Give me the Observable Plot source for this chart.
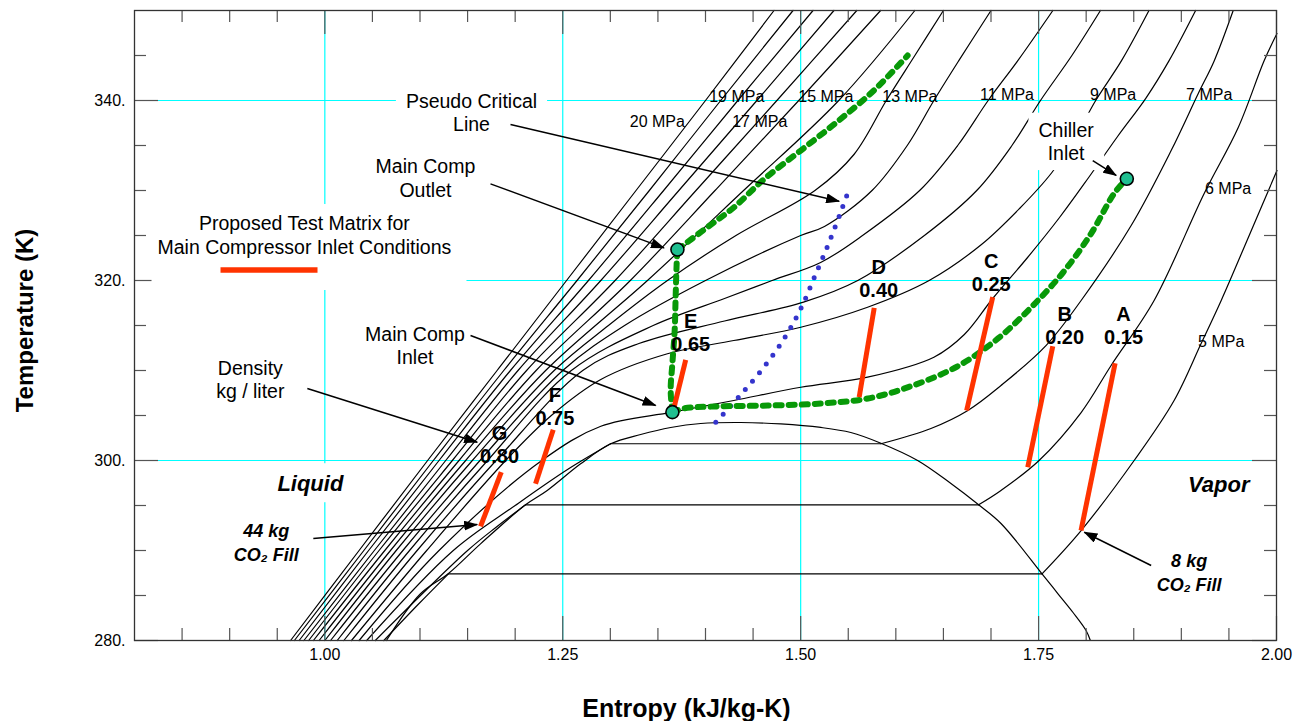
<!DOCTYPE html>
<html><head><meta charset="utf-8">
<script src="https://cdn.jsdelivr.net/npm/d3@7"></script>
<script src="https://cdn.jsdelivr.net/npm/@observablehq/plot@0.6"></script>
<style>
body{margin:0;background:#fff;}
#chart svg{font-family:"Liberation Sans",Arial,sans-serif;overflow:visible}
</style></head><body><div id="chart"></div>
<script>
// ---------- DATA (entropy kJ/kg-K, temperature K) ----------
const p20=[[0.964,280],[1.036,290],[1.108,300],[1.181,310],[1.254,320],[1.327,330],[1.400,340],[1.472,350]];
const p19=[[0.968,280],[1.041,290],[1.114,300],[1.188,310],[1.265,320],[1.341,330],[1.416,340],[1.492,350]];
const p18=[[0.973,280],[1.046,290],[1.120,300],[1.195,310],[1.277,320],[1.356,330],[1.434,340],[1.513,350]];
const p17=[[0.978,280],[1.052,290],[1.127,300],[1.203,310],[1.290,320],[1.372,330],[1.454,340],[1.535,350]];
const p16=[[0.983,280],[1.057,290],[1.134,300],[1.212,310],[1.305,320],[1.390,330],[1.475,340],[1.559,350]];
const p15=[[0.988,280],[1.063,290],[1.141,300],[1.222,310],[1.321,320],[1.410,330],[1.498,340],[1.584,350]];
const p14=[[0.994,280],[1.069,290],[1.148,300],[1.232,310],[1.339,320],[1.440,330],[1.540,340],[1.620,350]];
const p13=[[1.000,280],[1.075,290],[1.155,300],[1.241,310],[1.298,315],[1.360,320],[1.432,325],[1.515,330],[1.556,334],[1.590,340],[1.620,345],[1.650,350]];
const p12=[[1.006,280],[1.082,290],[1.163,300],[1.250,310],[1.315,315],[1.400,320],[1.500,325],[1.525,326],[1.575,330],[1.612,335],[1.640,340],[1.666,344.4],[1.700,350]];
const p11=[[1.013,280],[1.089,290],[1.171,300],[1.259,310],[1.345,315],[1.420,318],[1.470,320],[1.521,322],[1.565,325],[1.625,330],[1.665,335],[1.697,340],[1.728,344.4],[1.765,350]];
const p10=[[1.020,280],[1.097,290],[1.180,300],[1.271,310],[1.330,313],[1.420,315.5],[1.503,317.6],[1.560,320],[1.630,325],[1.685,330],[1.722,335],[1.752,340],[1.785,345],[1.815,350]];
const p9=[[1.028,280],[1.107,290],[1.190,300],[1.238,305],[1.290,309],[1.360,311.86],[1.4297,313.33],[1.5001,314.81],[1.5703,317.03],[1.635,320],[1.690,324],[1.730,328],[1.764,332],[1.789,336],[1.810,340],[1.837,344.4],[1.866,350]];
const p8=[[1.036,280],[1.120,290],[1.228,300],[1.290,303.8],[1.3652,305.37],[1.4297,306.67],[1.5001,308.14],[1.5703,309.26],[1.640,311.48],[1.672,314.0],[1.7018,318.0],[1.738,322.5],[1.772,327.0],[1.803,331.5],[1.833,336.0],[1.863,340.3],[1.887,344.4],[1.915,350]];
const p7=[[1.044,280],[1.135,290],[1.200,295],[1.255,299],[1.3003,301.86],[1.5843,301.86],[1.6369,303.56],[1.6757,305.56],[1.7105,308.33],[1.758,312.8],[1.7947,317.78],[1.8473,326.11],[1.8893,334.44],[1.9178,340.78],[1.9345,344.4],[1.9545,350]];
const p6=[[1.053,280],[1.150,290],[1.181,292.67],[1.2109,295.08],[1.6870,295.08],[1.7105,296.67],[1.7505,300],[1.7947,305.33],[1.8262,310.56],[1.8714,317.78],[1.9240,329.67],[1.9598,337.0],[1.9871,344.44],[2.0005,347.44]];
const p5=[[1.062,280],[1.098,284],[1.1299,287.41],[1.7536,287.41],[1.7947,292.22],[1.8504,300],[1.8924,306.67],[1.9208,313.0],[1.9419,317.78],[1.9713,325.0],[2.0005,332.22]];
const pressures=[20,19,18,17,16,15,14,13,12,11,10,9,8,7,6,5];
const isobarPts=[p20,p19,p18,p17,p16,p15,p14,p13,p12,p11,p10,p9,p8,p7,p6,p5];
// saturation dome
const dome=[[1.0647,280],[1.1005,285.19],[1.1299,287.44],[1.1636,290.74],[1.2109,295.08],[1.2337,296.67],[1.2688,299.63],[1.3003,301.86],[1.3319,302.89],[1.3634,303.67],[1.3950,304.11],[1.4370,304.22],[1.4791,304.06],[1.5212,303.67],[1.5527,303.11],[1.5843,301.92],[1.6229,300],[1.6579,297.44],[1.6870,295.08],[1.7105,293.0],[1.7536,287.41],[1.7704,285.19],[1.7862,283.11],[1.7999,281.11],[1.8044,280]];
// cycle path (green dotted)
const compression=[[1.3652,305.37],[1.3634,307.78],[1.3652,310.78],[1.3676,314.44],[1.3686,318.11],[1.3697,321.89],[1.3705,323.44]];
const heating=[[1.3705,323.44],[1.4020,325.92],[1.4297,328.11],[1.4612,331.22],[1.5001,334.44],[1.5388,337.67],[1.5769,341.11],[1.6124,345.0]];
const cooling=[[1.3652,305.37],[1.3771,305.78],[1.4087,306.0],[1.4654,306.11],[1.5212,306.33],[1.5707,306.89],[1.6180,308.33],[1.6664,310.56],[1.7074,313.56],[1.7421,317.0],[1.7757,320.89],[1.8052,325.22],[1.8294,329.67],[1.8427,331.30]];
// pseudo critical line (blue dotted)
const pseudoCritical=[[1.4108,304.26],[1.4363,307.22],[1.4605,310.26],[1.4820,313.44],[1.5001,316.86],[1.5152,320.56],[1.5293,324.08],[1.5430,327.86],[1.5517,330.37]];
// test matrix: constant density segments
const caseNames=["A","B","C","D","E","F","G"];
const caseDensity=["0.15","0.20","0.25","0.40","0.65","0.75","0.80"];
const caseS1=[1.7946,1.7386,1.6744,1.5615,1.3662,1.2214,1.1636];
const caseT1=[292.22,299.26,305.56,307.04,305.56,297.41,292.67];
const caseS2=[1.8304,1.7649,1.7018,1.5773,1.3792,1.2400,1.1854];
const caseT2=[310.81,312.70,318.15,316.96,311.19,303.41,298.70];
const caseLabelS=[1.8393,1.7774,1.7003,1.5820,1.3845,1.2417,1.1836];
const caseLabelT=[315.01,315.01,320.89,320.23,314.23,306.03,301.77];
// state points
const stateNames=["Main Comp Outlet","Main Comp Inlet","Chiller Inlet"];
const stateS=[1.3705,1.3652,1.8427];
const stateT=[323.44,305.37,331.30];
// pressure labels
const pLabelText=["20 MPa","19 MPa","17 MPa","15 MPa","13 MPa","11 MPa","9 MPa","7 MPa","6 MPa","5 MPa"];
const pLabelS=[1.3494,1.4328,1.4570,1.5264,1.6148,1.7168,1.8283,1.9293,1.9492,1.9419];
const pLabelT=[337.6,340.38,337.6,340.38,340.38,340.57,340.57,340.57,330.2,313.16];
// annotations
const noteText=["Pseudo Critical\nLine","Main Comp\nOutlet","Main Comp\nInlet","Density\nkg / liter","Chiller\nInlet"];
const noteS=[1.1541,1.1057,1.0947,0.9217,1.7789];
const noteT=[338.71,331.43,312.82,309.07,335.51];
const arrowS1=[1.1951,1.1741,1.1531,0.9816,0.9879,1.8683,1.8069];
const arrowT1=[337.33,330.74,313.89,308.0,291.33,288.33,333.33];
const arrowS2=[1.5404,1.3564,1.3476,1.1601,1.1601,1.7981,1.8315];
const arrowT2=[328.81,323.63,306.11,302.03,292.89,292.03,331.67];
const regionText=["Liquid","Vapor"];
const regionS=[0.9848,1.9393];
const regionT=[297.37,297.26];
const fillText=["44 kg\nCO₂ Fill","8 kg\nCO₂ Fill"];
const fillS=[0.9385,1.9082];
const fillT=[291.0,287.68];
const legendText=["Proposed Test Matrix for\nMain Compressor Inlet Conditions"];
const legendS=[0.9785];
const legendT=[325.13];
// axes
const xMajor=[1.00,1.25,1.50,1.75,2.00];
const xMinor=d3.range(17,40).map(i=>i*0.05).filter(v=>Math.abs(v*4-Math.round(v*4))>1e-6);
const yMajor=[280,300,320,340];
const yMinor=d3.range(285,350,5).filter(v=>v%20!==0);

// ---------- BUILD ----------
// split each isobar into liquid / two-phase (horizontal) / vapour pieces
const isobars=[];
pressures.forEach((p,i)=>{
  const pts=isobarPts[i]; let seg=0;
  pts.forEach(([s,T],j)=>{
    if(j>0&&T===pts[j-1][1]){
      seg++; isobars.push({p,seg:p+"-"+seg,s:pts[j-1][0],T:pts[j-1][1]});
      isobars.push({p,seg:p+"-"+seg,s,T}); seg++;
    }
    isobars.push({p,seg:p+"-"+seg,s,T});
  });
});
const toRows=a=>a.map(([s,T])=>({s,T}));
const cases=caseNames.map((n,i)=>({n,d:caseDensity[i],s1:caseS1[i],T1:caseT1[i],s2:caseS2[i],T2:caseT2[i],ls:caseLabelS[i],lT:caseLabelT[i]}));
const states=stateNames.map((n,i)=>({n,s:stateS[i],T:stateT[i]}));
const pLabels=pLabelText.map((t,i)=>({t,s:pLabelS[i],T:pLabelT[i]}));
const notes=noteText.map((t,i)=>({t,s:noteS[i],T:noteT[i]}));
const arrows=arrowS1.map((s,i)=>({s1:s,T1:arrowT1[i],s2:arrowS2[i],T2:arrowT2[i]}));
const regions=regionText.map((t,i)=>({t,s:regionS[i],T:regionT[i]}));
const fills=fillText.map((t,i)=>({t,s:fillS[i],T:fillT[i]}));
const legend=legendText.map((t,i)=>({t,s:legendS[i],T:legendT[i]}));
const greenPaths=[compression,heating,cooling].flatMap((a,k)=>a.map(([s,T])=>({k,s,T})));

const W=1297,H=721,mL=134,mR=21,mT=10,mB=81;
const fw=W-mL-mR, fh=H-mT-mB;
const CYAN="#00ffff", TICK="#555";
const font="Liberation Sans, Arial, sans-serif";

const chart=Plot.plot({
  width:W,height:H,marginLeft:mL,marginRight:mR,marginTop:mT,marginBottom:mB,
  style:{fontFamily:font,background:"white"},
  x:{domain:[0.8,2.0],axis:null},
  y:{domain:[280,350],axis:null},
  marks:[
    Plot.ruleX(xMajor.filter(v=>v<2),{stroke:CYAN,strokeWidth:1.2}),
    Plot.ruleY(yMajor.filter(v=>v>280),{stroke:CYAN,strokeWidth:1.2}),
    Plot.line(isobars,{x:"s",y:"T",z:"seg",stroke:"black",strokeWidth:1.2,curve:"catmull-rom"}),
    Plot.line(toRows(dome),{x:"s",y:"T",stroke:"black",strokeWidth:1.2,curve:"catmull-rom"}),
    Plot.line(toRows(pseudoCritical),{x:"s",y:"T",stroke:"#3434cc",strokeWidth:5,strokeDasharray:"0,11",strokeLinecap:"round",curve:"catmull-rom"}),
    Plot.line(greenPaths,{x:"s",y:"T",z:"k",stroke:"#089908",strokeWidth:6,strokeDasharray:"6,7",curve:"catmull-rom"}),
    Plot.link(cases,{x1:"s1",y1:"T1",x2:"s2",y2:"T2",stroke:"#ff3300",strokeWidth:5}),
    Plot.dot(states,{x:"s",y:"T",r:6.5,fill:"#1fbf90",stroke:"black",strokeWidth:1.6}),
    // ticks
    Plot.ruleX(xMinor,{stroke:TICK,strokeWidth:1.2,insetTop:fh-12}),
    Plot.ruleX(xMinor,{stroke:TICK,strokeWidth:1.2,insetBottom:fh-12}),
    Plot.ruleX(xMajor,{stroke:TICK,strokeWidth:1.2,insetTop:fh-24}),
    Plot.ruleX(xMajor,{stroke:TICK,strokeWidth:1.2,insetBottom:fh-24}),
    Plot.ruleY(yMinor,{stroke:TICK,strokeWidth:1.2,insetRight:fw-12}),
    Plot.ruleY(yMinor,{stroke:TICK,strokeWidth:1.2,insetLeft:fw-12}),
    Plot.ruleY(yMajor,{stroke:TICK,strokeWidth:1.2,insetRight:fw-24}),
    Plot.ruleY(yMajor,{stroke:TICK,strokeWidth:1.2,insetLeft:fw-24}),
    Plot.frame({stroke:"#333",strokeWidth:1.3}),
    Plot.axisX(xMajor,{anchor:"bottom",tickSize:0,tickPadding:8,fontSize:16,tickFormat:d=>d.toFixed(2),label:null}),
    Plot.axisY(yMajor,{anchor:"left",tickSize:0,tickPadding:9,fontSize:16,tickFormat:d=>d+".",label:null}),
    // boxed annotations
    Plot.text(notes,{x:"s",y:"T",text:"t",fontSize:19.5,lineHeight:1.2,fill:"black",className:"boxed"}),
    Plot.text(legend,{x:"s",y:"T",text:"t",fontSize:19.5,lineHeight:1.23,fill:"black",className:"legendbox"}),
    Plot.text(regions,{x:"s",y:"T",text:"t",fontSize:22,fontWeight:"bold",fontStyle:"italic",fill:"black",className:"regionbox"}),
    Plot.link(arrows,{x1:"s1",y1:"T1",x2:"s2",y2:"T2",stroke:"black",strokeWidth:1.5,className:"arrows"}),
    Plot.text(pLabels,{x:"s",y:"T",text:"t",fontSize:16,fill:"black"}),
    Plot.text(cases,{x:"ls",y:"lT",text:d=>d.n+"\n"+d.d,fontSize:20,fontWeight:"bold",lineHeight:1.14,fill:"black"}),
    Plot.text(fills,{x:"s",y:"T",text:"t",fontSize:18,fontWeight:"bold",fontStyle:"italic",lineHeight:1.3,fill:"black"}),
    Plot.text(["Entropy (kJ/kg-K)"],{frameAnchor:"bottom",lineAnchor:"middle",dy:68,dx:-19,fontSize:25,fontWeight:"bold",fill:"black"}),
    Plot.text(["Temperature (K)"],{frameAnchor:"left",textAnchor:"middle",lineAnchor:"middle",dx:-109,dy:-5,rotate:-90,fontSize:24,fontWeight:"bold",fill:"black"})
  ]
});
document.getElementById("chart").append(chart);

// ---------- post: white label boxes, filled arrow heads, legend swatch ----------
const ns="http://www.w3.org/2000/svg";
const defs=document.createElementNS(ns,"defs");
defs.innerHTML='<marker id="ahead" viewBox="0 0 14 10" refX="13" refY="5" markerWidth="14" markerHeight="10" markerUnits="userSpaceOnUse" orient="auto"><path d="M0,0L14,5L0,10Z" fill="black"/></marker>';
chart.insertBefore(defs,chart.firstChild);
chart.querySelectorAll("g.arrows path, g.arrows line").forEach(p=>p.setAttribute("marker-end","url(#ahead)"));
function whiteBox(t,pl,pr,pt,pb){
  const b=t.getBBox();
  const r=document.createElementNS(ns,"rect");
  r.setAttribute("x",b.x-pl);r.setAttribute("y",b.y-pt);
  r.setAttribute("width",b.width+pl+pr);r.setAttribute("height",b.height+pt+pb);
  r.setAttribute("fill","white");
  if(t.getAttribute("transform"))r.setAttribute("transform",t.getAttribute("transform"));
  t.parentNode.insertBefore(r,t);
  return b;
}
chart.querySelectorAll("g.boxed text").forEach(t=>whiteBox(t,10,10,6,6));
chart.querySelectorAll("g.regionbox text").forEach(t=>whiteBox(t,8,10,8,6));
chart.querySelectorAll("g.legendbox text").forEach(t=>{
  const b=whiteBox(t,6,15,8,32);
  const l=document.createElementNS(ns,"line");
  l.setAttribute("x1",b.x+63);l.setAttribute("x2",b.x+160);
  l.setAttribute("y1",b.y+b.height+12);l.setAttribute("y2",b.y+b.height+12);
  l.setAttribute("stroke","#ff3300");l.setAttribute("stroke-width",5.5);
  if(t.getAttribute("transform"))l.setAttribute("transform",t.getAttribute("transform"));
  t.parentNode.appendChild(l);
});
</script></body></html>
